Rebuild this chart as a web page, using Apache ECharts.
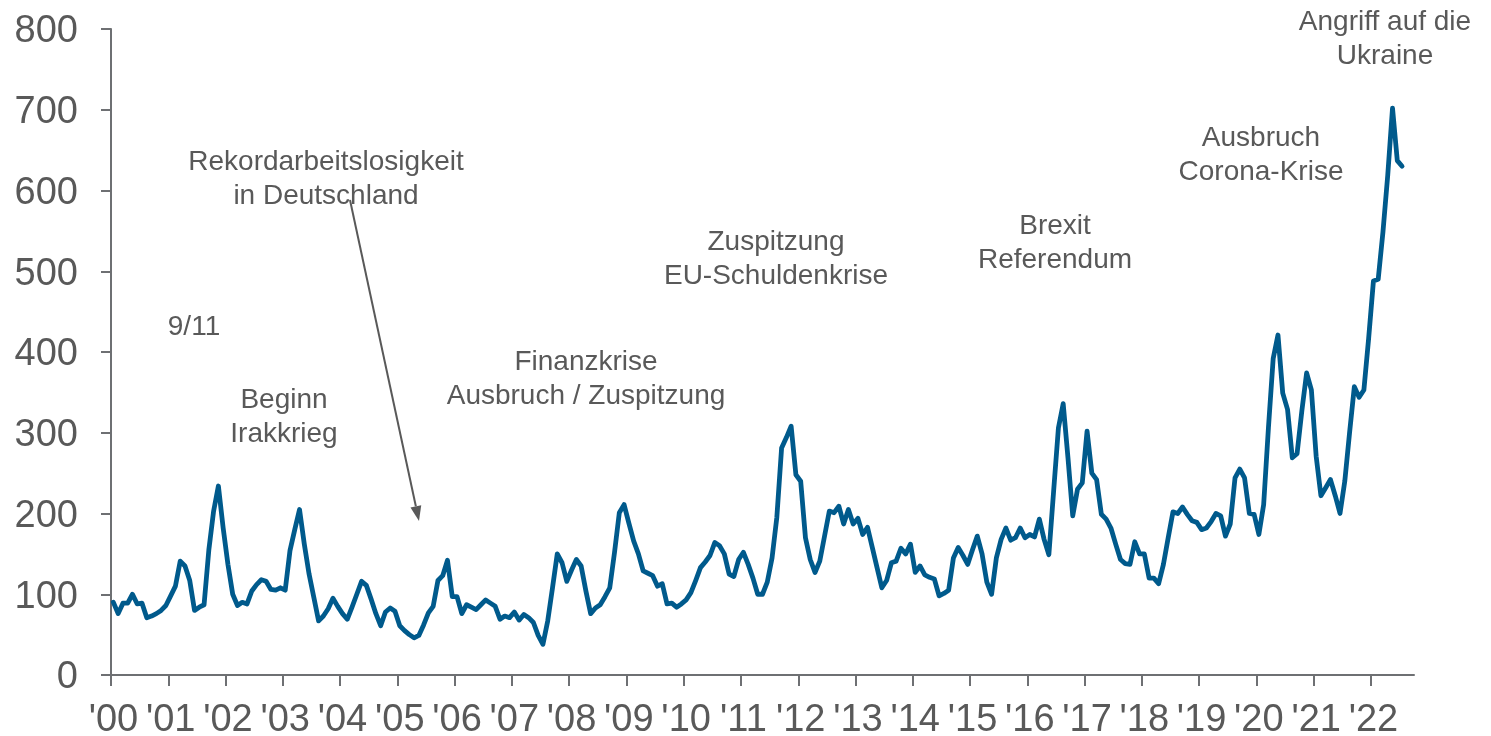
<!DOCTYPE html>
<html>
<head>
<meta charset="utf-8">
<script src="https://cdn.jsdelivr.net/npm/echarts@6/dist/echarts.min.js"></script>
<style>
html,body{margin:0;padding:0;background:#ffffff;}
#chart{width:1491px;height:736px;}
</style>
</head>
<body>
<div id="chart"></div>
<script>
// ---- data ----
const startYear = 2000;
const yearLabels = ["'00","'01","'02","'03","'04","'05","'06","'07","'08","'09","'10","'11","'12","'13","'14","'15","'16","'17","'18","'19","'20","'21","'22"];
const yTicks = [0, 100, 200, 300, 400, 500, 600, 700, 800];

// monthly index values, Jan 2000 onward
const values2000to2004 = [
  90, 76, 89, 89, 100, 88, 89, 71, 73, 76, 80, 86,
  98, 110, 141, 135, 117, 80, 84, 87, 155, 203, 234, 182,
  137, 100, 86, 90, 88, 104, 112, 118, 116, 106, 105, 108,
  105, 154, 180, 205, 162, 125, 96, 67, 73, 82, 95, 85,
  76, 69, 84, 100, 116, 111, 94, 76, 61, 78, 83, 79
];
const values2005to2009 = [
  61, 55, 50, 46, 49, 62, 77, 85, 117, 123, 142, 97,
  97, 76, 87, 84, 81, 87, 93, 89, 85, 69, 73, 71,
  78, 68, 75, 71, 65, 49, 38, 67, 108, 150, 139, 116,
  130, 143, 135, 104, 76, 83, 87, 97, 108, 152, 201, 211,
  188, 166, 150, 129, 126, 123, 110, 113, 88, 89, 84, 88
];
const values2010to2014 = [
  93, 102, 117, 133, 140, 148, 164, 160, 150, 125, 122, 143,
  152, 137, 120, 100, 100, 115, 145, 195, 281, 294, 308, 248,
  240, 170, 143, 127, 141, 172, 203, 201, 209, 187, 205, 187,
  194, 174, 183, 158, 133, 108, 117, 139, 141, 157, 150, 162,
  127, 135, 124, 121, 119, 98, 101, 105, 145, 158, 148, 137
];
const values2015to2019 = [
  155, 172, 150, 115, 100, 145, 168, 182, 167, 170, 182, 170,
  174, 171, 193, 168, 149, 228, 306, 336, 269, 197, 230, 238,
  302, 250, 242, 199, 193, 182, 162, 143, 138, 137, 165, 150,
  150, 120, 120, 113, 137, 170, 202, 200, 208, 199, 191, 189,
  180, 182, 190, 200, 197, 172, 187, 244, 255, 244, 200, 199
];
const values2020to2022 = [
  174, 211, 306, 392, 421, 349, 329, 269, 274, 327, 374, 353,
  271, 222, 232, 242, 222, 200, 240, 300, 357, 344, 353, 417,
  488, 490, 549, 619, 702, 637, 630
];
const monthsShown = 273; // axis runs Jan 2000 .. Sep 2022

const annotationTexts = [
  "Angriff auf die\nUkraine",
  "Ausbruch\nCorona-Krise",
  "Brexit\nReferendum",
  "Zuspitzung\nEU-Schuldenkrise",
  "Finanzkrise\nAusbruch / Zuspitzung",
  "Rekordarbeitslosigkeit\nin Deutschland",
  "9/11",
  "Beginn\nIrakkrieg"
];

// ---- build ----
const allValues = [].concat(values2000to2004, values2005to2009, values2010to2014, values2015to2019, values2020to2022);
const seriesData = allValues.map((v, i) => [startYear + (i + 0.5) / 12, v]);
const yearTickValues = yearLabels.map((_, i) => startYear + i);
// labels sit on the January month
const yearLabelValues = yearLabels.map((_, i) => startYear + i + 0.5 / 12);

const chart = echarts.init(document.getElementById('chart'), null, {renderer: 'canvas'});

const FONT = '"Liberation Sans", Arial, Helvetica, sans-serif';
const textColor = '#595959';
const axisColor = '#6e7073';

const annPos = [
  [1385, 39],
  [1261, 155],
  [1055, 243],
  [776, 259],
  [586, 379],
  [326, 179],
  [194, 327],
  [284, 417]
];

const graphics = annotationTexts.map((t, k) => ({
  type: 'text',
  x: annPos[k][0],
  y: annPos[k][1],
  silent: true,
  style: {
    text: t,
    fill: textColor,
    fontSize: 28,
    fontFamily: FONT,
    align: 'center',
    verticalAlign: 'middle',
    lineHeight: 34
  }
}));

// arrow for "Rekordarbeitslosigkeit"
const aStart = [350, 200];
const aTip = [419, 521];
const dx = aTip[0] - aStart[0], dy = aTip[1] - aStart[1];
const len = Math.sqrt(dx * dx + dy * dy);
const ux = dx / len, uy = dy / len;
const px = -uy, py = ux;
const headLen = 15, headHalf = 5.5;
const bx = aTip[0] - headLen * ux, by = aTip[1] - headLen * uy;
graphics.push({
  type: 'line', silent: true,
  shape: {x1: aStart[0], y1: aStart[1], x2: bx, y2: by},
  style: {stroke: textColor, lineWidth: 2}
});
graphics.push({
  type: 'polygon', silent: true,
  shape: {points: [[aTip[0], aTip[1]], [bx + headHalf * px, by + headHalf * py], [bx - headHalf * px, by - headHalf * py]]},
  style: {fill: textColor}
});

const option = {
  backgroundColor: '#ffffff',
  animation: false,
  grid: {left: 111, right: 77, top: 29, bottom: 61, containLabel: false, outerBoundsMode: 'none'},
  xAxis: {
    type: 'value',
    min: startYear,
    max: startYear + monthsShown / 12,
    interval: 1,
    splitLine: {show: false},
    axisLine: {show: true, onZero: false, lineStyle: {color: axisColor, width: 2}},
    axisTick: {show: true, length: 11, inside: false, customValues: yearTickValues, lineStyle: {color: axisColor, width: 2}},
    axisLabel: {
      show: true,
      customValues: yearLabelValues,
      margin: 27,
      fontSize: 38,
      fontFamily: FONT,
      color: textColor,
      formatter: function (v) {
        const idx = Math.round(v - startYear);
        return yearLabels[idx] !== undefined ? yearLabels[idx] : '';
      }
    }
  },
  yAxis: {
    type: 'value',
    min: yTicks[0],
    max: yTicks[yTicks.length - 1],
    interval: 100,
    splitLine: {show: false},
    axisLine: {show: true, lineStyle: {color: axisColor, width: 2}},
    axisTick: {show: true, length: 10, inside: false, lineStyle: {color: axisColor, width: 2}},
    axisLabel: {
      show: true,
      margin: 33,
      fontSize: 38,
      fontFamily: FONT,
      color: textColor,
      verticalAlign: 'top',
      lineHeight: 6
    }
  },
  series: [{
    type: 'line',
    data: seriesData,
    showSymbol: false,
    symbol: 'none',
    smooth: false,
    lineStyle: {color: '#005a8c', width: 4.8, join: 'round', cap: 'round'},
    z: 3
  }],
  graphic: graphics
};

chart.setOption(option);
</script>
</body>
</html>
